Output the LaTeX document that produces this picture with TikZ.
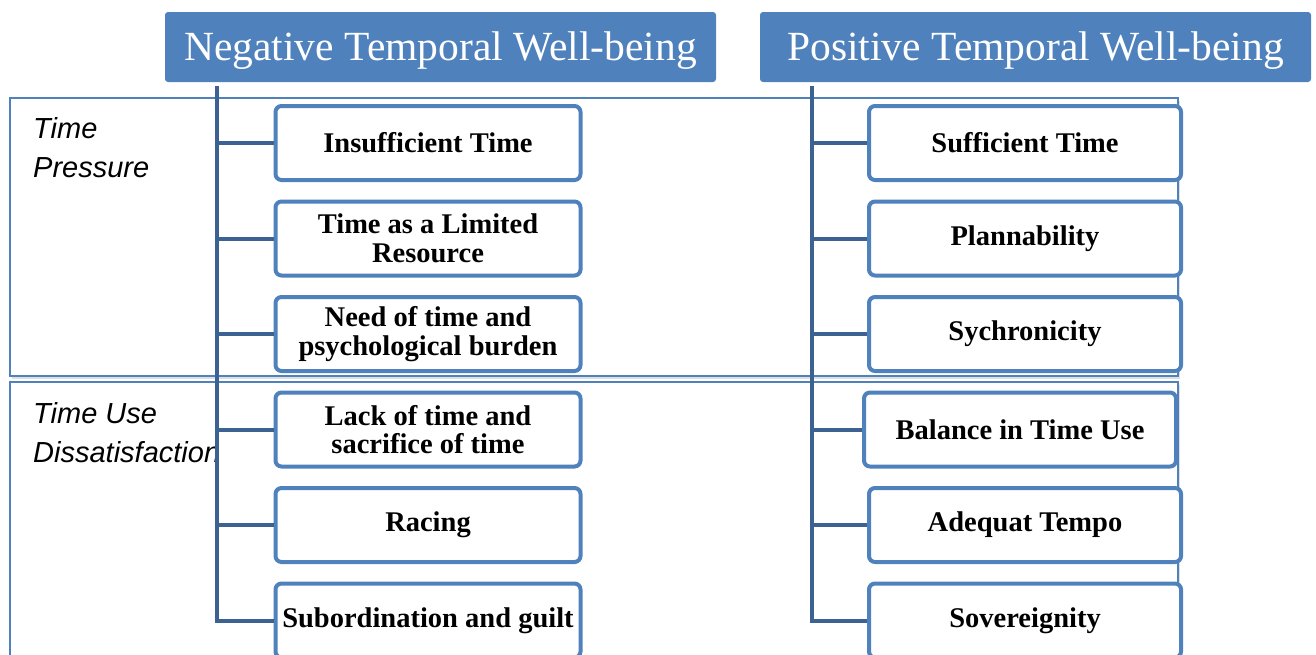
\documentclass[tikz,border=0pt]{standalone}
\usepackage{fontspec}
\setmainfont{Liberation Serif}
\newfontfamily\labelfont{Liberation Sans}
\usepackage{xcolor}
\definecolor{twblue}{RGB}{79, 129, 189}
\definecolor{twdark}{RGB}{60, 98, 145}
\usepackage{tikz}
\usetikzlibrary{positioning, shadows}

\begin{document}
\begin{tikzpicture}[
        x=1pt, y=-1pt,
        node distance=17.5pt,
        header/.style={
            rectangle,
            fill=twblue,
            text=white,
            minimum width=551pt,
            minimum height=70pt,
            inner sep=0pt,
            text height=30pt,
            text depth=4pt,
            rounded corners=3pt,
            font=\fontsize{41.5}{44}\selectfont
        },
        item/.style={
            rectangle,
            draw=twblue,
            line width=4pt,
            fill=white,
            minimum width=305pt,
            minimum height=74pt,
            inner sep=2pt,
            align=center,
            rounded corners=6pt,
            font=\bfseries\fontsize{28.5}{28.5}\selectfont
        },
        wideitem/.style={item, minimum width=312pt},
        group/.style={
            draw=twblue,
            line width=1.3pt,
            fill=white,
            drop shadow={opacity=0.25, shadow xshift=2pt, shadow yshift=-3pt}
        },
        grouplabel/.style={anchor=north west, align=left, inner sep=0pt, font=\labelfont\itshape\fontsize{29}{39}\selectfont},
        branch/.style={line width=4pt, color=twdark}
    ]
        \useasboundingbox (0,0) rectangle (1316,654);

        \draw[group] (10,98) rectangle (1178,376);
        \draw[group] (10,382) rectangle (1178,680);
        \node[grouplabel] (pressure) at (33,117) {Time\\Pressure};
        \node[grouplabel] (dissat) at (33,402) {Time Use\\Dissatisfaction};

        \node[header] (neg) at (440.5,47) {Negative Temporal Well-being};
        \node[header] (pos) at (1035.5,47) {Positive Temporal Well-being};

        \node[item] (n1) at (428,143) {Insufficient Time};
        \node[item, below=of n1] (n2) {Time as a Limited\\Resource};
        \node[item, below=of n2] (n3) {Need of time and\\psychological burden};
        \node[item, below=of n3] (n4) {Lack of time and\\sacrifice of time};
        \node[item, below=of n4] (n5) {Racing};
        \node[item, below=of n5] (n6) {Subordination and guilt};

        \node[wideitem] (p1) at (1025,143) {Sufficient Time};
        \node[wideitem, below=of p1] (p2) {Plannability};
        \node[wideitem, below=of p2] (p3) {Sychronicity};
        \node[wideitem, below=of p3, xshift=-5pt] (p4) {Balance in Time Use};
        \node[wideitem, below=of p4, xshift=5pt] (p5) {Adequat Tempo};
        \node[wideitem, below=of p5] (p6) {Sovereignity};

        \coordinate (negtop) at ([xshift=52pt, yshift=-4pt]neg.south west);
        \coordinate (postop) at ([xshift=52pt, yshift=-4pt]pos.south west);

        \draw[branch] (negtop) |- (n6.west);
        \draw[branch] (postop) |- (p6.west);
        \foreach \i in {1,...,5} {
            \draw[branch] (negtop |- n\i.west) -- (n\i.west);
            \draw[branch] (postop |- p\i.west) -- (p\i.west);
        }

    \end{tikzpicture}
\end{document}
